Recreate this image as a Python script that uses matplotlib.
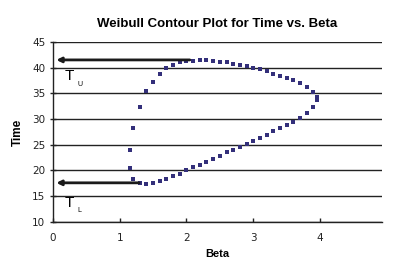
import matplotlib
matplotlib.use('Agg')
import matplotlib.pyplot as plt

# contour points (going round the loop)
beta = [1.15, 1.20, 1.30, 1.40, 1.50, 1.60, 1.70, 1.80, 1.90, 2.00,
        2.10, 2.20, 2.30, 2.40, 2.50, 2.60, 2.70, 2.80, 2.90, 3.00,
        3.10, 3.20, 3.30, 3.40, 3.50, 3.60, 3.70, 3.80, 3.89, 3.95,
        3.95, 3.89, 3.80, 3.70, 3.60, 3.50, 3.40, 3.30, 3.20, 3.10,
        3.00, 2.90, 2.80, 2.70, 2.60, 2.50, 2.40, 2.30, 2.20, 2.10,
        2.00, 1.90, 1.80, 1.70, 1.60, 1.50, 1.40, 1.30, 1.20, 1.15]
time = [24.0, 28.2, 32.4, 35.4, 37.3, 38.8, 39.9, 40.6, 41.0, 41.2,
        41.3, 41.5, 41.4, 41.3, 41.15, 41.0, 40.7, 40.5, 40.3, 39.9,
        39.7, 39.3, 38.8, 38.4, 37.9, 37.6, 37.0, 36.3, 35.2, 34.2,
        33.7, 32.3, 31.2, 30.2, 29.4, 28.8, 28.2, 27.6, 26.9, 26.4,
        25.8, 25.1, 24.5, 24.0, 23.5, 22.8, 22.2, 21.7, 21.1, 20.6,
        20.0, 19.4, 19.0, 18.3, 17.9, 17.6, 17.4, 17.6, 18.3, 20.4]

t_upper = 41.5
t_lower = 17.6
arrow_start_upper = 2.05
arrow_start_lower = 1.29

fig = plt.figure(figsize=(4, 2.62), dpi=100)
ax = fig.add_axes([0.1325, 0.153, 0.8225, 0.687])

ax.plot(beta, time, linestyle='none', marker='s', markersize=3,
        color='#332f7a', markeredgewidth=0, zorder=3)

ax.set_xlim(0, 4.93)
ax.set_ylim(10, 45)
ax.set_xticks([0, 1, 2, 3, 4])
ax.set_yticks(range(10, 50, 5))
ax.yaxis.grid(True, color='#222222', linewidth=1)
ax.set_axisbelow(True)

for s in ['top', 'right']:
    ax.spines[s].set_visible(False)
for s in ['left', 'bottom']:
    ax.spines[s].set_color('#222222')
    ax.spines[s].set_linewidth(1)

ax.tick_params(axis='y', direction='inout', length=5, width=1, labelsize=7.5,
               colors='#222222', pad=3)
ax.tick_params(axis='x', direction='in', length=3, width=1, labelsize=7.5,
               colors='#222222', pad=8)

ax.set_title('Weibull Contour Plot for Time vs. Beta', fontsize=9.5,
             fontweight='bold', family='Liberation Sans', pad=11)
ax.set_xlabel('Beta', fontsize=8, fontweight='bold', family='Liberation Sans',
              labelpad=4)
ax.set_ylabel('Time', fontsize=8.5, fontweight='bold', family='Liberation Sans',
              labelpad=6)

# arrows pointing to the time bounds
arrow = dict(arrowstyle='-|>', color='#1a1a1a', lw=2, mutation_scale=7,
             shrinkA=0, shrinkB=0)
ax.annotate('', xy=(0.05, t_upper), xytext=(arrow_start_upper, t_upper),
            arrowprops=arrow)
ax.annotate('', xy=(0.05, t_lower), xytext=(arrow_start_lower, t_lower),
            arrowprops=arrow)

ax.text(0.17, 38.3, 'T', fontsize=11, family='Liberation Sans', va='center')
ax.text(0.37, 36.8, 'U', fontsize=5, family='Liberation Sans', va='center')
ax.text(0.17, 13.7, 'T', fontsize=11, family='Liberation Sans', va='center')
ax.text(0.37, 12.2, 'L', fontsize=5, family='Liberation Sans', va='center')

fig.savefig('out.png', dpi=100)
